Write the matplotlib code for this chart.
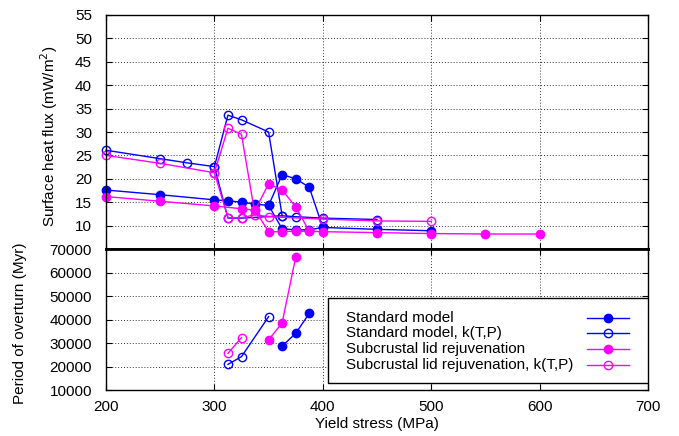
import numpy as np
import matplotlib
matplotlib.use("Agg")
import matplotlib.pyplot as plt
from matplotlib.patches import Rectangle

plt.rcParams['font.family'] = ['Liberation Sans', 'DejaVu Sans']
plt.rcParams['font.size'] = 11

# surface heat flux, each model has a main branch (a) and a second branch (b)
std_x_a = [200, 250, 300, 312.5, 325, 337.5, 350, 362.5, 375, 387.5, 400, 450, 500]
std_y_a = [17.6, 16.6, 15.5, 15.3, 15.0, 14.6, 14.3, 20.9, 20.0, 18.2, 9.6, 9.2, 8.9]
std_x_b = [350, 362.5, 375, 387.5, 400]
std_y_b = [14.3, 9.3, 9.1, 9.1, 9.6]

stdk_x_a = [200, 250, 275, 300, 312.5, 325, 350, 362.5, 375, 400, 450]
stdk_y_a = [26.1, 24.3, 23.4, 22.6, 33.6, 32.6, 30.0, 12.1, 11.9, 11.6, 11.3]
stdk_x_b = [300, 312.5, 325, 362.5]
stdk_y_b = [22.6, 11.6, 11.6, 12.1]

sub_x_a = [200, 250, 300, 325, 337.5, 350, 362.5, 375, 387.5, 400, 450, 500, 550, 600]
sub_y_a = [16.2, 15.2, 14.2, 13.6, 13.3, 18.9, 17.6, 14.0, 8.8, 8.7, 8.5, 8.3, 8.2, 8.2]
sub_x_b = [337.5, 350, 362.5, 375, 387.5]
sub_y_b = [13.3, 8.7, 8.7, 8.8, 8.8]

subk_x_a = [200, 250, 300, 312.5, 325, 337.5, 350, 400, 450, 500]
subk_y_a = [25.0, 23.3, 21.3, 30.8, 29.5, 12.3, 11.9, 11.4, 11.0, 10.9]
subk_x_b = [300, 312.5, 325, 337.5]
subk_y_b = [21.3, 11.7, 11.7, 12.3]

# period of overturn
per_std_x = [362.5, 375, 387.5]
per_std_y = [28700, 34100, 42600]
per_stdk_x = [312.5, 325, 350]
per_stdk_y = [20900, 24200, 41200]
per_sub_x = [350, 362.5, 375]
per_sub_y = [31300, 38600, 66500]
per_subk_x = [312.5, 325]
per_subk_y = [25600, 32300]

labels = ['Standard model', 'Standard model, k(T,P)',
          'Subcrustal lid rejuvenation', 'Subcrustal lid rejuvenation, k(T,P)']

BLUE = '#0000ff'
MAG = '#ff00ff'
styles = [
    dict(color=BLUE, marker='o', mfc=BLUE, mec=BLUE),
    dict(color=BLUE, marker='o', mfc='none', mec=BLUE),
    dict(color=MAG, marker='o', mfc=MAG, mec=MAG),
    dict(color=MAG, marker='o', mfc='none', mec=MAG),
]
common = dict(lw=1.0, ms=6, mew=1.0)

fig = plt.figure(figsize=(6.79, 4.36), dpi=100)
L, R = 106 / 679, 648 / 679
top, mid, bot = 1 - 15 / 436, 1 - 249 / 436, 1 - 390 / 436
ax1 = fig.add_axes([L, mid, R - L, top - mid])
ax2 = fig.add_axes([L, bot, R - L, mid - bot])

flux = [(std_x_a, std_y_a, std_x_b, std_y_b),
        (stdk_x_a, stdk_y_a, stdk_x_b, stdk_y_b),
        (sub_x_a, sub_y_a, sub_x_b, sub_y_b),
        (subk_x_a, subk_y_a, subk_x_b, subk_y_b)]
for (xa, ya, xb, yb), st in zip(flux, styles):
    ax1.plot(xb, yb, **st, **common, clip_on=False)
    ax1.plot(xa, ya, **st, **common, clip_on=False)

period = [(per_std_x, per_std_y), (per_stdk_x, per_stdk_y),
          (per_sub_x, per_sub_y), (per_subk_x, per_subk_y)]
for (x, y), st in zip(period, styles):
    ax2.plot(x, y, **st, **common, clip_on=False)

grid_kw = dict(color='0.2', linestyle=(0, (1, 2)), linewidth=0.7)
for ax in (ax1, ax2):
    ax.set_xlim(200, 700)
    ax.set_xticks(np.arange(200, 701, 100))
    ax.grid(True, **grid_kw)
    ax.set_axisbelow(True)
    ax.tick_params(direction='in', length=4, top=True, right=True, width=0.8)
    ax.tick_params(axis='y', pad=10)
    ax.tick_params(axis='x', pad=7)
    for s in ax.spines.values():
        s.set_linewidth(1.0)

ax1.set_ylim(5, 55)
ax1.set_yticks(np.arange(10, 56, 5))
ax1.tick_params(labelbottom=False)
ax1.spines['bottom'].set_linewidth(2.0)
ax1.set_ylabel('Surface heat flux (mW/m$^2$)')
ax1.yaxis.set_label_coords(-0.085, 0.48)

ax2.set_ylim(10000, 70000)
ax2.set_yticks(np.arange(10000, 70001, 10000))
ax2.spines['top'].set_linewidth(2.0)
ax2.set_ylabel('Period of overturn (Myr)')
ax2.yaxis.set_label_coords(-0.145, 0.475)
ax2.set_xlabel('Yield stress (MPa)', labelpad=2)

# legend box drawn like the gnuplot key: text left, sample at right
ax2.add_patch(Rectangle((0.41, 0.05), 0.59, 0.602, transform=ax2.transAxes,
                        facecolor='white', edgecolor='black', lw=1.0, zorder=5))
rows = [0.511, 0.404, 0.291, 0.177]
for lab, st, ry in zip(labels, styles, rows):
    ax2.text(0.443, ry, lab, transform=ax2.transAxes, va='center', ha='left', zorder=6)
    ax2.plot([0.887, 0.965], [ry, ry], transform=ax2.transAxes, color=st['color'],
             lw=1.0, zorder=6, clip_on=False)
    ax2.plot([0.926], [ry], transform=ax2.transAxes, ls='none', **st, ms=6, mew=1.0,
             zorder=7, clip_on=False)

fig.savefig('out.png', dpi=100)
